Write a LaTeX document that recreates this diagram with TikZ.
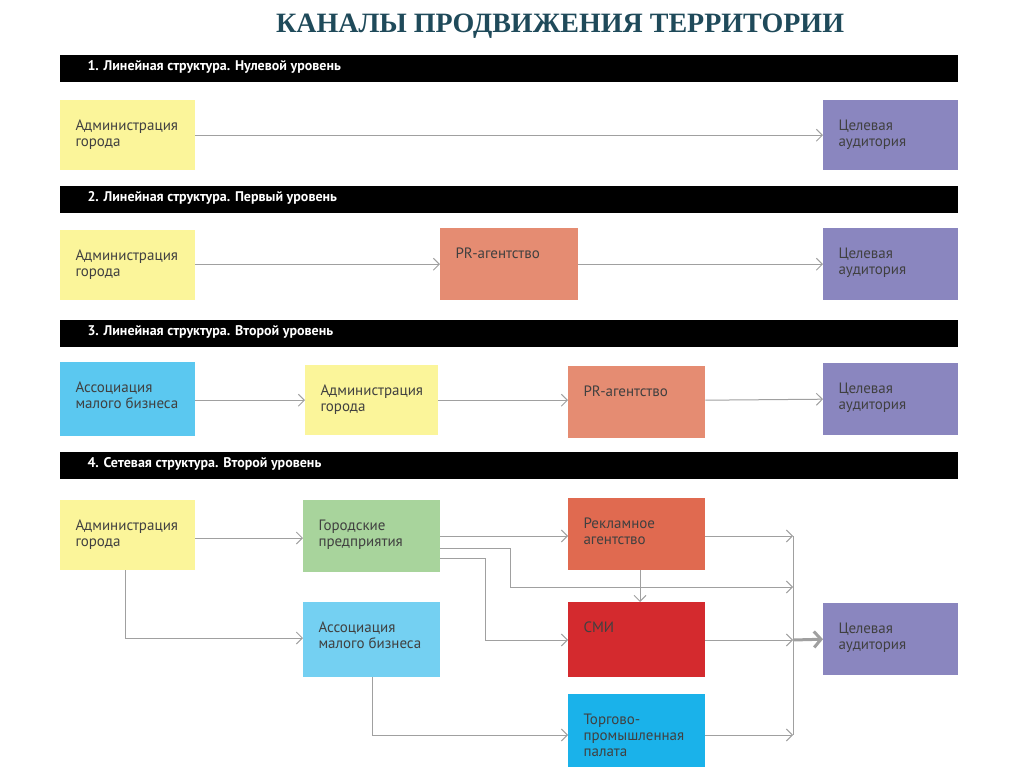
\documentclass[tikz,border=0pt]{standalone}
\usepackage{fontspec}
\setmainfont{PT Sans}
\newfontfamily\titlefont{Liberation Serif}
\usetikzlibrary{arrows.meta}
\definecolor{cyel}{HTML}{FBF59A}
\definecolor{cpur}{HTML}{8A86BF}
\definecolor{cpr}{HTML}{E58C72}
\definecolor{cblue}{HTML}{5BC8F0}
\definecolor{cgreen}{HTML}{A8D49C}
\definecolor{cad}{HTML}{E06A50}
\definecolor{csmi}{HTML}{D42A2E}
\definecolor{ctpp}{HTML}{1AB2EA}
\definecolor{cline}{HTML}{A0A0A0}
\definecolor{ctitle}{HTML}{1F4A5A}
\begin{document}
\begin{tikzpicture}[x=1pt,y=-1pt,
  box/.style={minimum width=#1, inner sep=0pt, anchor=north west, align=left},
  bx/.style={draw=none, inner sep=0pt},
  lab/.style={font=\fontsize{15}{16}\selectfont, text=black!75, align=left, anchor=north west},
  bar/.style={fill=black},
  bartext/.style={font=\bfseries\fontsize{14}{15}\selectfont, text=white, anchor=west},
  con/.style={draw=cline, line width=1pt, -{Straight Barb[length=6pt,width=12pt]}},
  ln/.style={draw=cline, line width=1pt}]
\useasboundingbox (0,0) rectangle (1024,767);
\node[font=\titlefont\bfseries\fontsize{28}{30}\selectfont, text=ctitle] (title) at (560,26) {КАНАЛЫ ПРОДВИЖЕНИЯ ТЕРРИТОРИИ};
% bars
\foreach \y/\t [count=\i] in {55/{1. Линейная структура. Нулевой уровень},186/{2. Линейная структура. Первый уровень},320/{3. Линейная структура. Второй уровень},452/{4. Сетевая структура. Второй уровень}}{
  \fill[bar] (60,\y) rectangle (958,\y+27);
  \node[bartext] (bar\i) at (84,\y+12) {\t};
}
% macro for boxes
\newcommand\mybox[7]{% name, x1,y1,x2,y2,color,text
  \path[fill=#6] (#2,#3) rectangle (#4,#5);
  \node[bx, minimum width={#4-#2}, minimum height={#5-#3}, anchor=north west] (#1) at (#2,#3) {};
  \node[lab] at (#2+12,#3+16) {#7};}
% section 1
\mybox{a1}{60}{100}{195}{170}{cyel}{Администрация\\города}
\mybox{t1}{823}{100}{958}{170}{cpur}{Целевая\\аудитория}
\draw[con] (a1.east) -- (t1.west);
% section 2
\mybox{a2}{60}{230}{195}{300}{cyel}{Администрация\\города}
\mybox{p2}{440}{228}{578}{300}{cpr}{PR-агентство}
\mybox{t2}{823}{228}{958}{300}{cpur}{Целевая\\аудитория}
\draw[con] (a2.east|-p2.east) -- (p2.west);
\draw[con] (p2.east) -- (t2.west);
% section 3
\mybox{s3}{60}{362}{195}{436}{cblue}{Ассоциация\\малого бизнеса}
\mybox{a3}{305}{365}{438}{435}{cyel}{Администрация\\города}
\mybox{p3}{568}{366}{705}{438}{cpr}{PR-агентство}
\mybox{t3}{823}{363}{958}{435}{cpur}{Целевая\\аудитория}
\draw[con] (s3.east|-a3.west) -- (a3.west);
\draw[con] (a3.east) -- (a3.east-|p3.west);
\draw[con] (a3.east-|p3.east) -- (t3.west);
% section 4
\mybox{a4}{60}{500}{195}{570}{cyel}{Администрация\\города}
\mybox{g4}{303}{500}{440}{572}{cgreen}{Городские\\предприятия}
\mybox{r4}{568}{498}{705}{570}{cad}{Рекламное\\агентство}
\mybox{m4}{568}{602}{705}{677}{csmi}{СМИ}
\mybox{c4}{568}{694}{705}{767}{ctpp}{Торгово-\\промышленная\\палата}
\mybox{s4}{303}{602}{440}{677}{cblue!85!white}{Ассоциация\\малого бизнеса}
\mybox{t4}{823}{603}{958}{675}{cpur}{Целевая\\аудитория}
\coordinate (j1) at (793,536);
\coordinate (j2) at (793,587);
\coordinate (j3) at (793,640);
\coordinate (j4) at (793,735);
\draw[con] (195,538) -- (303,538);
\draw[con] (125,570) |- (303,638);
\draw[con] (440,536) -- (568,536);
\draw[con] (440,548) -| (510,587) -- (j2);
\draw[con] (440,558) -| (485,640) -- (568,640);
\draw[con] (372,677) |- (568,735);
\draw[con] (705,536) -- (j1);
\draw[con] (640,570) -- (640,602);
\draw[con] (705,640) -- (j3);
\draw[con] (705,735) -- (j4);
\draw[ln] (j1) -- (j4);
\draw[draw=cline, line width=3pt, -{Straight Barb[length=7pt,width=16pt]}] (j3) -- (t4.west);
\end{tikzpicture}
\end{document}
